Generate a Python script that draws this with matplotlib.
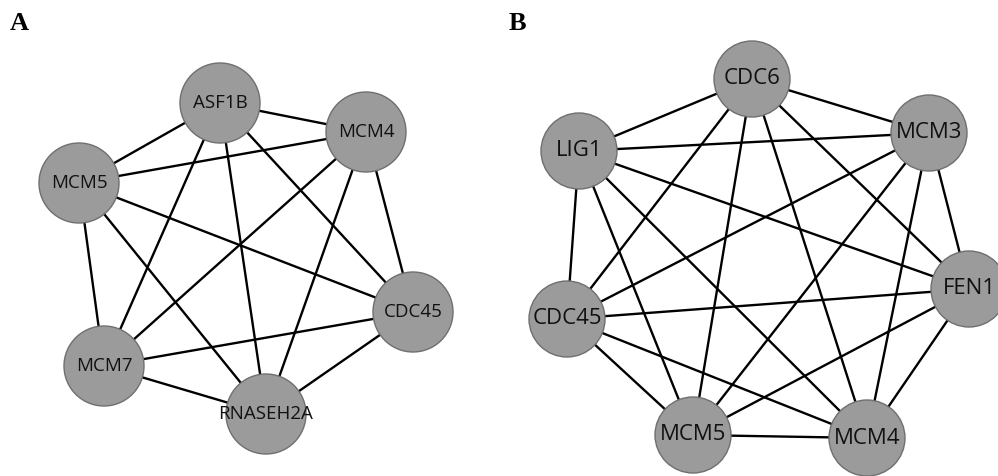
import matplotlib.pyplot as plt
from matplotlib.patches import Circle

# Panel A: layout positions (pixels in the panel) and edges
nodes_a = ['ASF1B', 'MCM4', 'MCM5', 'CDC45', 'MCM7', 'RNASEH2A']
x_a = [220, 366, 79, 413, 104, 266]
y_a = [103, 132, 183, 312, 366, 414]
edges_a = [('ASF1B', 'MCM4'), ('ASF1B', 'MCM5'), ('ASF1B', 'CDC45'),
           ('ASF1B', 'MCM7'), ('ASF1B', 'RNASEH2A'), ('MCM4', 'MCM5'),
           ('MCM4', 'CDC45'), ('MCM4', 'MCM7'), ('MCM4', 'RNASEH2A'),
           ('MCM5', 'CDC45'), ('MCM5', 'MCM7'), ('MCM5', 'RNASEH2A'),
           ('CDC45', 'MCM7'), ('CDC45', 'RNASEH2A'), ('MCM7', 'RNASEH2A')]

# Panel B
nodes_b = ['CDC6', 'MCM3', 'LIG1', 'FEN1', 'CDC45', 'MCM5', 'MCM4']
x_b = [253, 430, 80, 470, 68, 194, 368]
y_b = [79, 133, 151, 289, 319, 435, 438]
edges_b = [('CDC6', 'MCM3'), ('CDC6', 'LIG1'), ('CDC6', 'FEN1'),
           ('CDC6', 'CDC45'), ('CDC6', 'MCM5'), ('CDC6', 'MCM4'),
           ('MCM3', 'LIG1'), ('MCM3', 'FEN1'), ('MCM3', 'CDC45'),
           ('MCM3', 'MCM5'), ('MCM3', 'MCM4'), ('LIG1', 'FEN1'),
           ('LIG1', 'CDC45'), ('LIG1', 'MCM5'), ('LIG1', 'MCM4'),
           ('FEN1', 'CDC45'), ('FEN1', 'MCM5'), ('FEN1', 'MCM4'),
           ('CDC45', 'MCM5'), ('CDC45', 'MCM4'), ('MCM5', 'MCM4')]

fig = plt.figure(figsize=(9.98, 4.76), dpi=100)


def draw_net(ax, nodes, xs, ys, edges, radius, fsize, letter):
    pos = {n: (x, y) for n, x, y in zip(nodes, xs, ys)}
    for a, b in edges:
        ax.plot([pos[a][0], pos[b][0]], [pos[a][1], pos[b][1]],
                color='black', lw=1.7, zorder=1, solid_capstyle='butt')
    for n in nodes:
        ax.add_patch(Circle(pos[n], radius, facecolor='#9b9b9b',
                            edgecolor='#6f6f6f', lw=1.0, zorder=2))
        ax.text(pos[n][0], pos[n][1], n, ha='center', va='center',
                fontsize=fsize, family='Open Sans', color='#111111', zorder=3)
    ax.text(10, 24, letter, ha='left', va='center', fontsize=19,
            fontweight='bold', family='Liberation Serif')
    ax.set_xlim(0, 499)
    ax.set_ylim(476, 0)
    ax.set_aspect('equal')
    ax.axis('off')


ax1 = fig.add_axes([0, 0, 0.5, 1])
ax2 = fig.add_axes([0.5, 0, 0.5, 1])
draw_net(ax1, nodes_a, x_a, y_a, edges_a, 40, 13.5, 'A')
draw_net(ax2, nodes_b, x_b, y_b, edges_b, 38, 16, 'B')

fig.savefig('out.png', dpi=100)
